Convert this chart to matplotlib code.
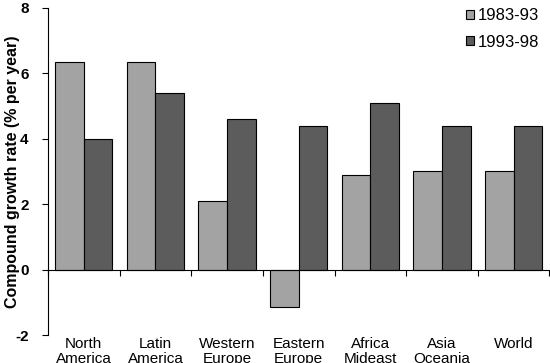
import matplotlib.pyplot as plt
import numpy as np

regions = ["North\nAmerica", "Latin\nAmerica", "Western\nEurope", "Eastern\nEurope",
           "Africa\nMideast", "Asia\nOceania", "World"]
growth_83_93 = [6.35, 6.35, 2.1, -1.15, 2.9, 3.0, 3.0]
growth_93_98 = [4.0, 5.4, 4.6, 4.4, 5.1, 4.4, 4.4]
series_labels = ["1983-93", "1993-98"]

plt.rcParams['font.family'] = ['Liberation Sans', 'DejaVu Sans']

fig = plt.figure(figsize=(5.5, 3.63), dpi=100)
ax = fig.add_axes([0.0873, 0.0771, 0.9117, 0.9009])

x = np.arange(len(regions))
w = 0.4
ax.bar(x - w / 2, growth_83_93, w, color='#a3a3a3', edgecolor='black', linewidth=0.8,
       label=series_labels[0])
ax.bar(x + w / 2, growth_93_98, w, color='#5c5c5c', edgecolor='black', linewidth=0.8,
       label=series_labels[1])

ax.set_xlim(-0.5, len(regions) - 0.5)
ax.set_ylim(-2, 8)
ax.set_yticks([-2, 0, 2, 4, 6, 8])
ax.set_yticklabels(['-2', '0', '2', '4', '6', '8'], fontweight='bold', fontsize=11)
ax.set_ylabel("Compound growth rate (% per year)", fontweight='bold', fontsize=11.5)
ax.yaxis.set_label_coords(-0.056, 0.5)

# x axis sits on zero, ticks at category boundaries
ax.spines['bottom'].set_position(('data', 0))
ax.spines['top'].set_visible(False)
ax.spines['right'].set_visible(False)
ax.set_xticks(np.arange(len(regions) + 1) - 0.5)
ax.set_xticklabels([])
ax.tick_params(axis='x', direction='out', length=4, width=0.8)
ax.tick_params(axis='y', direction='out', length=4, width=0.8, pad=10)

trans = ax.get_xaxis_transform()
for i, name in enumerate(regions):
    ax.text(i, -0.005, name, transform=trans, ha='center', va='top', fontsize=11,
            linespacing=1.1)

ax.legend(loc='upper right', bbox_to_anchor=(1.0, 1.03), frameon=False, fontsize=12,
          handlelength=0.45, handleheight=0.45, handletextpad=0.25, labelspacing=0.7,
          borderaxespad=0.2)

fig.savefig("out.png", dpi=100)
